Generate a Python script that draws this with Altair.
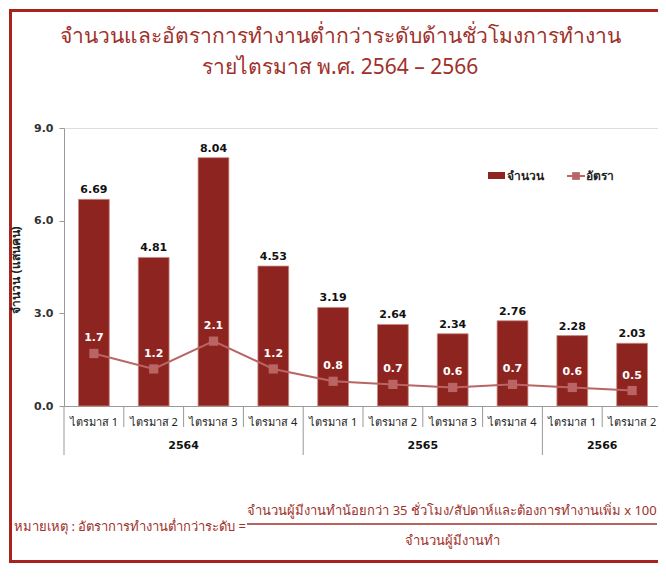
import altair as alt
import pandas as pd

# ---- data ----
quarters = ["ไตรมาส 1", "ไตรมาส 2", "ไตรมาส 3", "ไตรมาส 4",
            "ไตรมาส 1", "ไตรมาส 2", "ไตรมาส 3", "ไตรมาส 4",
            "ไตรมาส 1", "ไตรมาส 2"]
years = ["2564"] * 4 + ["2565"] * 4 + ["2566"] * 2
counts = [6.69, 4.81, 8.04, 4.53, 3.19, 2.64, 2.34, 2.76, 2.28, 2.03]
rates = [1.7, 1.2, 2.1, 1.2, 0.8, 0.7, 0.6, 0.7, 0.6, 0.5]
year_labels = ["2564", "2565", "2566"]
y_ticks = [0, 3, 6, 9]

title1 = "จำนวนและอัตราการทำงานต่ำกว่าระดับด้านชั่วโมงการทำงาน"
title2 = "รายไตรมาส พ.ศ. 2564 – 2566"
y_title = "จำนวน (แสนคน)"
legend_bar = "จำนวน"
legend_line = "อัตรา"
note_left = "หมายเหตุ :  อัตราการทำงานต่ำกว่าระดับ ="
note_num = "จำนวนผู้มีงานทำน้อยกว่า 35 ชั่วโมง/สัปดาห์และต้องการทำงานเพิ่ม x 100"
note_den = "จำนวนผู้มีงานทำ"

keys = [f"{y}|{q}" for y, q in zip(years, quarters)]
df = pd.DataFrame({"key": keys, "quarter": quarters, "year": years,
                   "count": counts, "rate": rates})
df["count_lbl"] = [f"{v:.2f}" for v in counts]
df["rate_lbl"] = [f"{v:.1f}" for v in rates]

grp_first = [keys[years.index(y)] for y in year_labels]
grp_mid = []
for y in year_labels:
    idx = [i for i, yy in enumerate(years) if yy == y]
    grp_mid.append(keys[idx[len(idx) // 2 - 1]])
df_years = pd.DataFrame({"key": grp_mid, "year": year_labels})
df_long = pd.DataFrame({"key": grp_first})
df_short = pd.DataFrame({"key": [k for k in keys if k not in grp_first]})

W, H = 594, 278
PAD_B = 160
FONT = "Noto Sans"
NUMF = "DejaVu Sans"
RED_T = "#A0302A"
BORDER = "#A8231C"
BAR = "#8E2420"
LINE = "#BA6464"

xscale = alt.Scale(domain=keys, range=[0, 598], paddingInner=0, paddingOuter=0)
yscale = alt.Scale(domain=[0, 9], nice=False, zero=True)

base = alt.Chart(df)

xenc = alt.X("key:N", scale=xscale, sort=keys, title=None,
             axis=alt.Axis(labelExpr="split(datum.label, '|')[1]", labelAngle=0,
                           ticks=False, tickSize=0, labelPadding=16,
                           labelBaseline="middle", labelFontSize=11,
                           labelColor="#222222", labelFont=FONT,
                           domainColor="#999999", labelOverlap=False))
yenc = alt.Y("count:Q", scale=yscale, title=None,
             axis=alt.Axis(values=y_ticks, format=".1f", grid=False,
                           tickSize=5, tickColor="#999999", domainColor="#999999",
                           labelFontWeight="bold", labelFontSize=11,
                           labelColor="#333333", labelPadding=6, labelFont=NUMF))

one = pd.DataFrame({"a": [0]})

# page frame (left, top, bottom) as thin filled strips
bot = H + PAD_B - 6
fr_top = alt.Chart(one).mark_rect(color=BORDER).encode(
    x=alt.value(-55), x2=alt.value(W), y=alt.value(-119), y2=alt.value(-116))
fr_left = alt.Chart(one).mark_rect(color=BORDER).encode(
    x=alt.value(-55), x2=alt.value(-52), y=alt.value(-119), y2=alt.value(bot + 3))
fr_bot = alt.Chart(one).mark_rect(color=BORDER).encode(
    x=alt.value(-55), x2=alt.value(W), y=alt.value(bot), y2=alt.value(bot + 3))

bars = base.mark_bar(width=alt.RelativeBandSize(0.515), color=BAR,
                     stroke="#C98A82", strokeWidth=0.8).encode(x=xenc, y=yenc)

bar_txt = base.mark_text(baseline="bottom", dy=-4, fontWeight="bold", fontSize=11,
                         color="#111111", font=NUMF).encode(
    x=alt.X("key:N", scale=xscale, sort=keys), y=alt.Y("count:Q", scale=yscale),
    text="count_lbl:N")

line = base.mark_line(color=LINE, strokeWidth=2).encode(
    x=alt.X("key:N", scale=xscale, sort=keys), y=alt.Y("rate:Q", scale=yscale))
pts = base.mark_point(shape="square", filled=True, size=85, color=LINE, opacity=1).encode(
    x=alt.X("key:N", scale=xscale, sort=keys), y=alt.Y("rate:Q", scale=yscale))
rate_txt = base.mark_text(baseline="middle", dy=-15, fontWeight="bold", fontSize=11,
                          color="white", font=NUMF).encode(
    x=alt.X("key:N", scale=xscale, sort=keys), y=alt.Y("rate:Q", scale=yscale),
    text="rate_lbl:N")

short_rules = alt.Chart(df_short).mark_rule(color="#999999", strokeWidth=1).encode(
    x=alt.X("key:N", scale=xscale, sort=keys, bandPosition=0),
    y=alt.value(H), y2=alt.value(H + 21))
long_rules = alt.Chart(df_long).mark_rule(color="#999999", strokeWidth=1).encode(
    x=alt.X("key:N", scale=xscale, sort=keys, bandPosition=0),
    y=alt.value(H), y2=alt.value(H + 49))
year_txt = alt.Chart(df_years).mark_text(fontWeight="bold", fontSize=11, color="#111111",
                                         baseline="middle", font=NUMF).encode(
    x=alt.X("key:N", scale=xscale, sort=keys, bandPosition=1),
    y=alt.value(H + 40), text="year:N")


def txt(s, x, y, **kw):
    d = pd.DataFrame({"t": [s]})
    return alt.Chart(d).mark_text(**kw).encode(
        x=alt.value(x), y=alt.value(y), text="t:N")


t1 = txt(title1, 276, -91, font=FONT, fontSize=21, color=RED_T, align="center", baseline="middle")
t2 = txt(title2, 276, -60, font=FONT, fontSize=21, color=RED_T, align="center", baseline="middle")
ytl = txt(y_title, -48, 142, font=FONT, fontSize=12, fontWeight="bold", color="#222222",
          angle=270, align="center", baseline="middle")

leg_rect = alt.Chart(one).mark_rect(color=BAR).encode(
    x=alt.value(424), x2=alt.value(441), y=alt.value(44), y2=alt.value(51))
leg_t1 = txt(legend_bar, 443, 48, font=FONT, fontSize=12, fontWeight="bold", color="#222222",
             align="left", baseline="middle")
leg_line = alt.Chart(one).mark_rule(color=LINE, strokeWidth=2).encode(
    x=alt.value(503), x2=alt.value(521), y=alt.value(48))
leg_pt = alt.Chart(one).mark_point(shape="square", filled=True, size=60, color=LINE,
                                   opacity=1).encode(x=alt.value(512), y=alt.value(48))
leg_t2 = txt(legend_line, 522, 48, font=FONT, fontSize=12, fontWeight="bold", color="#222222",
             align="left", baseline="middle")

n_left = txt(note_left, -50, 399, font=FONT, fontSize=13, color=RED_T, align="left", baseline="middle")
n_num = txt(note_num, 388, 383, font=FONT, fontSize=13, color=RED_T, align="center", baseline="middle")
n_den = txt(note_den, 388, 413, font=FONT, fontSize=13, color=RED_T, align="center", baseline="middle")
n_rule = alt.Chart(one).mark_rule(color=RED_T, strokeWidth=1.5).encode(
    x=alt.value(183), x2=alt.value(593), y=alt.value(396))

chart = alt.layer(
    fr_top, fr_left, fr_bot, bars, line, pts, bar_txt, rate_txt, short_rules, long_rules,
    year_txt, t1, t2, ytl, leg_rect, leg_t1, leg_line, leg_pt, leg_t2,
    n_left, n_num, n_den, n_rule
).properties(
    width=W, height=H,
    autosize=alt.AutoSizeParams(type="none"),
    padding={"left": 56, "top": 120, "right": 0, "bottom": PAD_B},
    background="white",
).configure_view(stroke=None).configure(font=FONT)

chart.save("out.html", embed_options={"renderer": "svg", "actions": False})
